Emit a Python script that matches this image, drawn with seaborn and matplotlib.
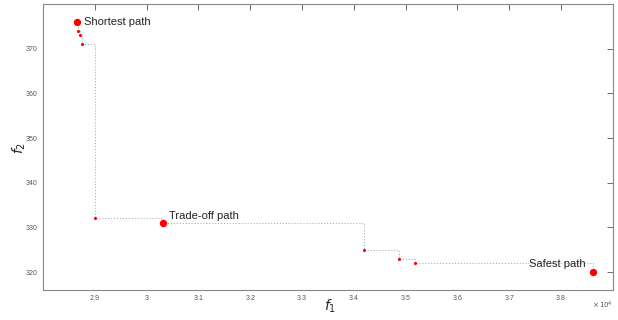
import seaborn as sns
import matplotlib.pyplot as plt
import pandas as pd
from matplotlib.ticker import FuncFormatter

# Pareto front points (f1 in raw units, f2)
f1 = [28660, 28680, 28720, 28750, 29000, 30320, 34190, 34870, 35190, 38620]
f2 = [376, 374, 373, 371, 332, 331, 325, 323, 322, 320]
kind = ['key', 'mid', 'mid', 'mid', 'mid', 'key', 'mid', 'mid', 'mid', 'key']
labels = {0: 'Shortest path', 5: 'Trade-off path', 9: 'Safest path'}
xticks = [29000, 30000, 31000, 32000, 33000, 34000, 35000, 36000, 37000, 38000]
yticks = [320, 330, 340, 350, 360, 370]

df = pd.DataFrame({'f1': f1, 'f2': f2, 'kind': kind})

sns.set_style("white")
plt.rcParams['font.family'] = ['Liberation Sans', 'DejaVu Sans']

fig = plt.figure(figsize=(6.18, 3.2), dpi=100)
ax = fig.add_axes([0.0696, 0.094, 0.922, 0.8935])

# dotted staircase connecting the front
sns.lineplot(data=df, x='f1', y='f2', ax=ax, estimator=None, sort=False,
             drawstyle='steps-post', color='#b0b0b0', linestyle=':', linewidth=0.8)

sns.scatterplot(data=df[df.kind == 'mid'], x='f1', y='f2', ax=ax,
                color='red', s=5, linewidth=0, zorder=3)
sns.scatterplot(data=df[df.kind == 'key'], x='f1', y='f2', ax=ax,
                color='red', s=28, linewidth=0, zorder=3)

tk = dict(fontsize=8, color='#222222', va='center')
ax.text(f1[0] + 135, f2[0], labels[0], **tk)
ax.text(f1[5] + 120, 332.6, labels[5], **tk)
ax.text(f1[9] - 150, 321.7, labels[9], ha='right', **tk)

ax.set_xlim(28000, 39000)
ax.set_ylim(316, 380)
ax.set_xticks(xticks)
ax.set_yticks(yticks)
ax.xaxis.set_major_formatter(FuncFormatter(lambda v, p: '%g' % round(v / 1e4, 3)))

ax.tick_params(direction='in', length=4, width=0.6, labelsize=5, colors='#555555',
               top=True, right=True, pad=4)
for sp in ax.spines.values():
    sp.set_color('#888888')
    sp.set_linewidth(0.8)

ax.set_xlabel('$f_1$', fontsize=10)
ax.set_ylabel('$f_2$', fontsize=10)
ax.xaxis.set_label_coords(0.503, -0.028)
ax.yaxis.set_label_coords(-0.026, 0.497)
ax.text(1.0, -0.035, r'$\times\,10^4$', transform=ax.transAxes, fontsize=5,
        color='#555555', ha='right', va='top')

fig.savefig('out.png', dpi=100)
